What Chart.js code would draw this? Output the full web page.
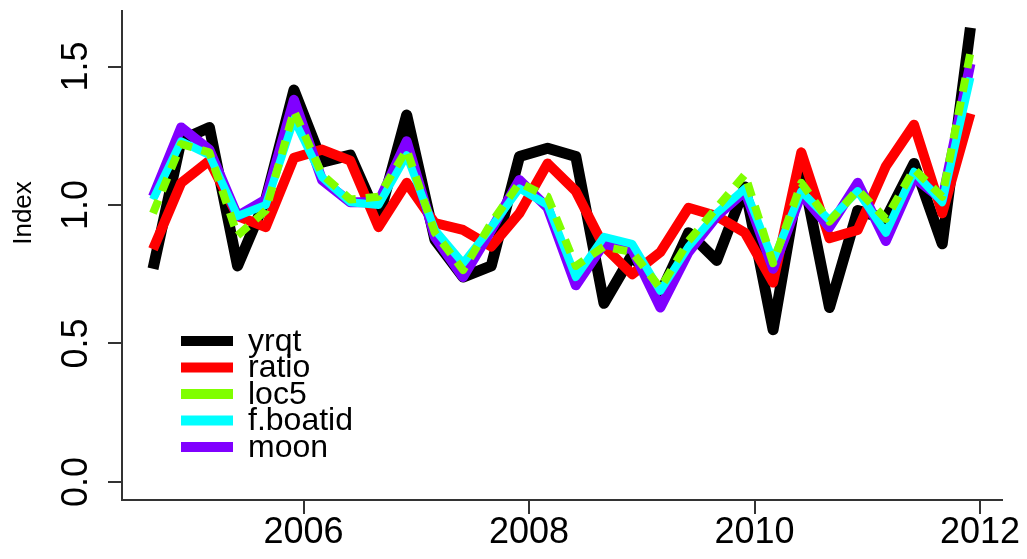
<!DOCTYPE html>
<html>
<head>
<meta charset="utf-8">
<script src="https://cdn.jsdelivr.net/npm/chart.js@4.4.0/dist/chart.umd.min.js"></script>
<style>
  html, body { margin: 0; padding: 0; background: #fff; }
  canvas { display: block; }
</style>
</head>
<body>
<canvas id="indexChart" width="1027" height="559"></canvas>
<script>
// quarterly time points (decimal years)
var times = [2004.665, 2004.915, 2005.165, 2005.415, 2005.665, 2005.915,
             2006.165, 2006.415, 2006.665, 2006.915, 2007.165, 2007.415,
             2007.665, 2007.915, 2008.165, 2008.415, 2008.665, 2008.915,
             2009.165, 2009.415, 2009.665, 2009.915, 2010.165, 2010.415,
             2010.665, 2010.915, 2011.165, 2011.415, 2011.665, 2011.915];

var yrqt = [0.77, 1.235, 1.28, 0.78, 1.02, 1.415, 1.155, 1.18, 0.95, 1.325,
            0.875, 0.74, 0.78, 1.175, 1.205, 1.175, 0.645, 0.82, 0.68, 0.90,
            0.80, 1.065, 0.55, 1.14, 0.63, 0.98, 0.95, 1.15, 0.86, 1.64];
var ratio = [0.84, 1.08, 1.16, 0.96, 0.92, 1.17, 1.20, 1.16, 0.92, 1.08,
             0.935, 0.91, 0.85, 0.97, 1.15, 1.05, 0.85, 0.75, 0.83, 0.99,
             0.96, 0.90, 0.72, 1.19, 0.88, 0.91, 1.14, 1.29, 0.97, 1.33];
var loc5 = [0.97, 1.22, 1.19, 0.89, 0.98, 1.34, 1.11, 1.02, 1.03, 1.20,
            0.90, 0.765, 0.935, 1.08, 1.03, 0.78, 0.85, 0.83, 0.70, 0.87,
            0.99, 1.11, 0.79, 1.08, 0.94, 1.055, 0.95, 1.13, 1.03, 1.55];
var fboatid = [1.02, 1.23, 1.18, 0.96, 1.00, 1.31, 1.10, 1.01, 1.00, 1.18,
               0.91, 0.79, 0.92, 1.06, 1.00, 0.74, 0.885, 0.86, 0.69, 0.85,
               0.97, 1.06, 0.80, 1.05, 0.945, 1.05, 0.90, 1.12, 1.01, 1.46];
var moon = [1.03, 1.28, 1.20, 0.96, 1.02, 1.38, 1.09, 1.01, 1.01, 1.23,
            0.885, 0.74, 0.91, 1.09, 0.99, 0.71, 0.86, 0.84, 0.63, 0.83,
            0.96, 1.05, 0.77, 1.04, 0.92, 1.08, 0.87, 1.10, 1.02, 1.51];

var seriesNames = ['yrqt', 'ratio', 'loc5', 'f.boatid', 'moon'];
var seriesColors = ['#000000', '#ff0000', '#80ff00', '#00ffff', '#8000ff'];
var xTicks = [2006, 2008, 2010, 2012];
var yTicks = [0, 0.5, 1, 1.5];
var yTickLabels = ['0.0', '0.5', '1.0', '1.5'];
var yTitle = 'Index';

var FONT = '"Liberation Sans", Arial, sans-serif';

function points(values) {
    return values.map(function (v, i) { return { x: times[i], y: v }; });
}

function lineSet(i, values, width, order, dash) {
    return {
        label: seriesNames[i],
        data: points(values),
        borderColor: seriesColors[i],
        borderWidth: width,
        borderDash: dash || [],
        borderCapStyle: 'butt',
        borderJoinStyle: 'round',
        pointRadius: 0,
        tension: 0,
        fill: false,
        order: order
    };
}

// axes, tick labels and legend drawn in R style
var rAxes = {
    id: 'rAxes',
    afterDraw: function (chart) {
        var ctx = chart.ctx, a = chart.chartArea;
        var xs = chart.scales.x, ys = chart.scales.y;
        ctx.save();
        ctx.strokeStyle = '#333';
        ctx.lineWidth = 2;
        ctx.beginPath();
        ctx.moveTo(a.left, a.top);
        ctx.lineTo(a.left, a.bottom);
        ctx.lineTo(a.right, a.bottom);
        yTicks.forEach(function (v) {
            var py = Math.round(ys.getPixelForValue(v));
            ctx.moveTo(a.left - 14, py);
            ctx.lineTo(a.left, py);
        });
        xTicks.forEach(function (v) {
            var px = Math.round(xs.getPixelForValue(v));
            ctx.moveTo(px, a.bottom);
            ctx.lineTo(px, a.bottom + 14);
        });
        ctx.stroke();

        ctx.fillStyle = '#000';
        ctx.font = '36px ' + FONT;
        ctx.textAlign = 'center';
        ctx.textBaseline = 'middle';
        xTicks.forEach(function (v) {
            ctx.fillText(String(v), xs.getPixelForValue(v), 533);
        });
        yTicks.forEach(function (v, i) {
            ctx.save();
            ctx.translate(77, ys.getPixelForValue(v));
            ctx.rotate(-Math.PI / 2);
            ctx.fillText(yTickLabels[i], 0, 0);
            ctx.restore();
        });

        ctx.font = '26px ' + FONT;
        ctx.save();
        ctx.translate(24, 213);
        ctx.rotate(-Math.PI / 2);
        ctx.fillText(yTitle, 0, 0);
        ctx.restore();

        // legend
        ctx.font = '32px ' + FONT;
        ctx.textAlign = 'left';
        ctx.lineWidth = 10;
        ctx.lineCap = 'butt';
        seriesNames.forEach(function (name, i) {
            var ly = 341 + i * 26.5;
            ctx.strokeStyle = seriesColors[i];
            ctx.beginPath();
            ctx.moveTo(181, ly);
            ctx.lineTo(233, ly);
            ctx.stroke();
            ctx.fillText(name, 248, ly + 1);
        });
        ctx.restore();
    }
};

new Chart(document.getElementById('indexChart'), {
    type: 'line',
    data: {
        datasets: [
            lineSet(0, yrqt, 11, 5),
            lineSet(1, ratio, 10, 4),
            lineSet(4, moon, 10, 3),
            lineSet(3, fboatid, 8, 2),
            lineSet(2, loc5, 8, 1, [14, 10])
        ]
    },
    options: {
        responsive: false,
        animation: false,
        layout: { padding: { left: 122, right: 24, top: 10, bottom: 59 } },
        scales: {
            x: { type: 'linear', min: 2004.39, max: 2012.204, display: false },
            y: { min: -0.065, max: 1.704, display: false }
        },
        plugins: { legend: { display: false }, tooltip: { enabled: false } }
    },
    plugins: [rAxes]
});
</script>
</body>
</html>
